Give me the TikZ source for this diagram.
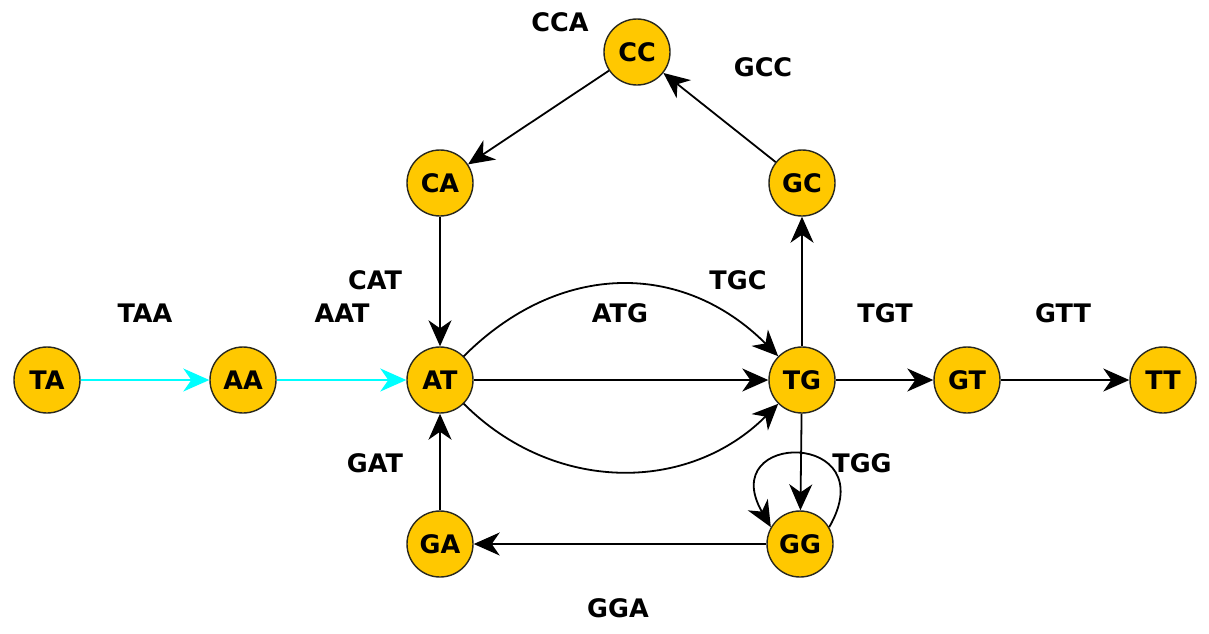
\documentclass[tikz,border=0pt]{standalone}
\usepackage{fontspec}
\setmainfont{DejaVu Sans}
\usetikzlibrary{arrows.meta}
\definecolor{gold}{RGB}{255,200,0}
\definecolor{rim}{RGB}{40,40,30}
\definecolor{aqua}{RGB}{0,255,255}
\tikzset{
  kmer/.style={circle, fill=gold, draw=rim, line width=1.4pt, minimum size=66pt, inner sep=0pt,
    font=\fontsize{25.5}{30}\selectfont\bfseries},
  lbl/.style={font=\fontsize{25.5}{30}\selectfont\bfseries, inner sep=0pt},
  edge/.style={line width=1.8pt, -{Stealth[length=26pt, width=23pt, inset=8pt]}},
}
\begin{document}
\begin{tikzpicture}[x=1pt, y=1pt]
\useasboundingbox (0,0) rectangle (1209,-633);

% vertices (2-mers)
\node[kmer] (TA) at (47,-380) {TA};
\node[kmer] (AA) at (243,-380) {AA};
\node[kmer] (AT) at (440,-380) {AT};
\node[kmer] (TG) at (802,-380) {TG};
\node[kmer] (GT) at (967,-380) {GT};
\node[kmer] (TT) at (1163,-380) {TT};
\node[kmer] (CA) at (440,-183) {CA};
\node[kmer] (CC) at (637,-52) {CC};
\node[kmer] (GC) at (802,-183) {GC};
\node[kmer] (GA) at (440,-544) {GA};
\node[kmer] (GG) at (800,-544) {GG};

% edges (3-mers)
\draw[edge, aqua] (TA) -- (AA);
\draw[edge, aqua] (AA) -- (AT);
\draw[edge] (CA) -- (AT);
\draw[edge] (CC) -- (CA);
\draw[edge] (GC) -- (CC);
\draw[edge] (TG) -- (GC);
\draw[edge] (GA) -- (AT);
\draw[edge] (GG) -- (GA);
\draw[edge] (AT) -- (TG);
\draw[edge] (AT) to[out=45, in=135, distance=135pt] (TG);
\draw[edge] (AT) to[out=-45, in=-135, distance=127pt] (TG);
\draw[edge] (TG) -- (GG);
\draw[edge] (TG) -- (GT);
\draw[edge] (GT) -- (TT);
\draw[edge] (GG.30) to[out=60, in=120, distance=112pt] (GG.150);

% edge labels
\node[lbl] (lTAA) at (145,-313) {TAA};
\node[lbl] (lAAT) at (342,-313) {AAT};
\node[lbl] (lCAT) at (375,-280) {CAT};
\node[lbl] (lCCA) at (560,-22) {CCA};
\node[lbl] (lGCC) at (763,-67) {GCC};
\node[lbl] (lTGC) at (738,-280) {TGC};
\node[lbl] (lATG) at (620,-313) {ATG};
\node[lbl] (lTGT) at (885,-313) {TGT};
\node[lbl] (lGTT) at (1063,-313) {GTT};
\node[lbl] (lGAT) at (375,-463) {GAT};
\node[lbl] (lTGG) at (862,-463) {TGG};
\node[lbl] (lGGA) at (618,-608) {GGA};
\end{tikzpicture}
\end{document}
